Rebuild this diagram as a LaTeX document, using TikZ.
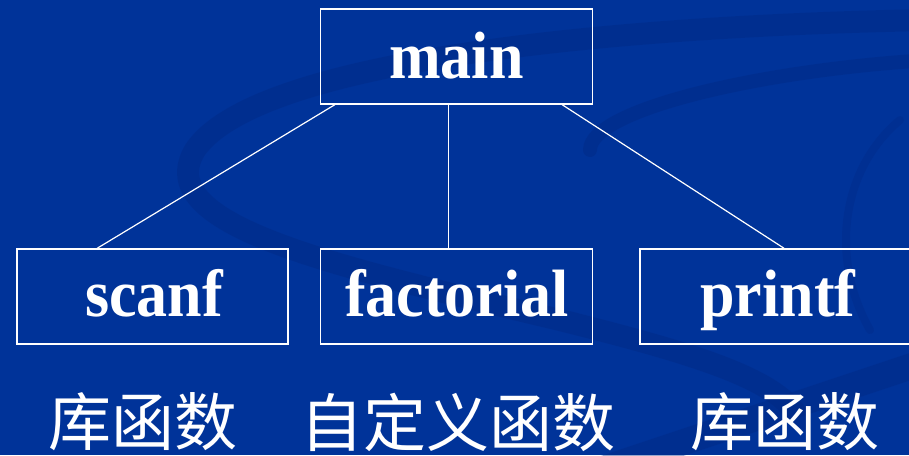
\documentclass[tikz,border=0pt]{standalone}
\usepackage{fontspec}
\setmainfont{Liberation Serif}
\newfontfamily\cjk{Noto Sans CJK SC}
\definecolor{bg}{RGB}{0,51,153}
\definecolor{swoosh}{RGB}{0,40,130}
\tikzset{
  fbox/.style={draw=white, line width=1.5pt, minimum width=272pt, minimum height=95pt, inner sep=0pt},
  ftext/.style={text=white, font=\fontsize{62}{62}\selectfont\bfseries, anchor=base, inner sep=0pt, yscale=1.08},
  link/.style={draw=white, line width=1.2pt},
  cn/.style={text=white, inner sep=0pt, font=\cjk\fontsize{63}{63}\selectfont},
  sw/.style={draw=swoosh, opacity=0.4, line cap=round}
}
\begin{document}
\begin{tikzpicture}[x=1pt,y=-1pt]
\path[use as bounding box, fill=bg] (0,0) rectangle (909,455);
\begin{scope}
\clip (0,0) rectangle (909,455);
% background swooshes
\draw[sw, line width=22pt] (930,20) .. controls (650,25) and (260,55) .. (195,150)
  .. controls (150,225) and (330,265) .. (560,320) .. controls (700,355) and (780,380) .. (800,420);
\draw[sw, line width=14pt] (930,60) .. controls (760,70) and (590,110) .. (590,150);
\draw[sw, line width=8pt, opacity=0.3] (900,120) .. controls (840,170) and (830,260) .. (870,330);
\draw[sw, line width=26pt] (600,470) .. controls (720,430) and (840,390) .. (930,360);
\end{scope}
% boxes
\node[fbox] (main) at (456.5,56.5) {};
\node[fbox, minimum width=271pt] (scanf) at (152.5,296.5) {};
\node[fbox] (fact) at (456.5,296.5) {};
\node[fbox] (printf) at (776,296.5) {};
\node[ftext] (tmain) at (456.5,78) {main};
\node[ftext] (tscanf) at (154,316) {scanf};
\node[ftext] (tfact) at (457,316) {factorial};
\node[ftext] (tprintf) at (778,316) {printf};
% connectors
\draw[link] ([xshift=15pt]main.south west) -- ([xshift=81pt]scanf.north west);
\draw[link] ([xshift=-8pt]main.south) -- ([xshift=-8pt]fact.north);
\draw[link] ([xshift=-31pt]main.south east) -- ([xshift=8pt]printf.north);
% labels
\node[cn] (l1) at (143,422) {库函数};
\node[cn] (l2) at (458,422) {自定义函数};
\node[cn] (l3) at (785,422) {库函数};
\end{tikzpicture}
\end{document}
